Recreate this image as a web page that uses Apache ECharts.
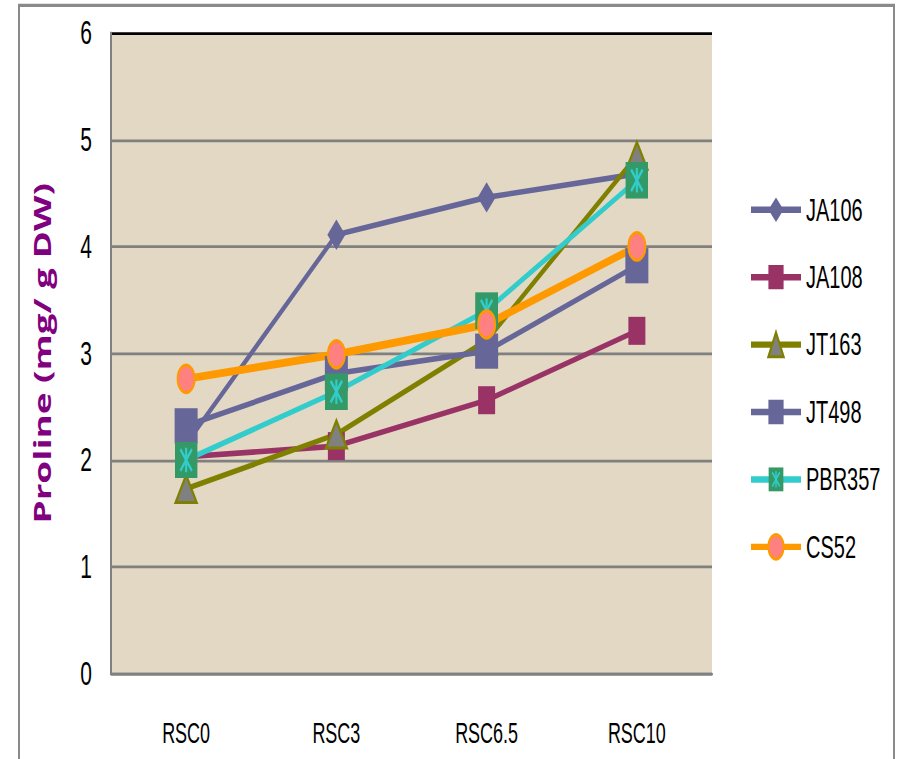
<!DOCTYPE html>
<html>
<head>
<meta charset="utf-8">
<script src="https://cdn.jsdelivr.net/npm/echarts@6/dist/echarts.min.js"></script>
<style>
html,body{margin:0;padding:0;background:#fff;width:901px;height:759px;}
#wrap{width:901px;height:759px;position:relative;}
#chart{position:absolute;left:0;top:0;width:901px;height:474px;transform:scaleY(1.6013);transform-origin:0 0;}
</style>
</head>
<body>
<div id="wrap"><div id="chart"></div></div>
<script>
// ---- data ----
var categories = ['RSC0', 'RSC3', 'RSC6.5', 'RSC10'];
var yTicks = [0, 1, 2, 3, 4, 5, 6];
var JA106  = [2.15, 4.11, 4.46, 4.68];
var JA108  = [2.03, 2.13, 2.56, 3.21];
var JT163  = [1.73, 2.24, 3.12, 4.85];
var JT498  = [2.32, 2.81, 3.02, 3.82];
var PBR357 = [2.00, 2.64, 3.40, 4.62];
var CS52   = [2.76, 2.99, 3.27, 4.00];

// The reference picture is stretched vertically (~1.6x); the chart is drawn
// at 901x474 and stretched by CSS so that glyphs and markers keep that look.
var pbrSvg = '<svg xmlns="http://www.w3.org/2000/svg" width="24" height="24" viewBox="0 0 24 24" preserveAspectRatio="none">' +
  '<rect x="0" y="0" width="24" height="24" fill="#339966"/>' +
  '<g stroke="#33cccc" stroke-width="2.2" fill="none">' +
  '<line x1="12" y1="4" x2="12" y2="20"/>' +
  '<line x1="6" y1="5" x2="18" y2="19"/>' +
  '<line x1="18" y1="5" x2="6" y2="19"/>' +
  '</g></svg>';
var pbrSymbol = 'image://data:image/svg+xml;charset=utf-8,' + encodeURIComponent(pbrSvg);

var chart = echarts.init(document.getElementById('chart'), null, {renderer: 'svg'});
var baseFont = "'Liberation Sans', Arial, sans-serif";

function mk(name, data, lineColor, symbol, size, fill, border, bw, lw) {
  return {
    name: name, type: 'line', data: data,
    symbol: symbol, symbolSize: size,
    lineStyle: {color: lineColor, width: lw},
    itemStyle: {color: fill, borderColor: border || fill, borderWidth: bw || 0},
    emphasis: {disabled: true},
    animation: false
  };
}

var option = {
  backgroundColor: '#ffffff',
  animation: false,
  grid: {left: 111, right: 189, top: 20.6, bottom: 53.4, show: true,
         backgroundColor: '#e2d8c4', borderWidth: 0},
  legend: {
    orient: 'vertical', left: 749, top: 121, padding: 0,
    itemWidth: 50, itemHeight: 19, itemGap: 22.1,
    lineStyle: {width: 4},
    textStyle: {fontFamily: baseFont, fontSize: 20, color: '#000'},
    data: ['JA106', 'JA108', 'JT163', 'JT498', 'PBR357', 'CS52']
  },
  xAxis: {
    type: 'category', data: categories, boundaryGap: true,
    axisLine: {show: true, lineStyle: {color: '#808080', width: 1.8}},
    axisTick: {show: false},
    axisLabel: {fontFamily: baseFont, fontSize: 18, color: '#000', margin: 28}
  },
  yAxis: {
    type: 'value', min: yTicks[0], max: yTicks[yTicks.length - 1], interval: 1,
    name: 'Proline (mg/ g DW)', nameLocation: 'middle', nameGap: 57,
    nameTextStyle: {fontFamily: "'Open Sans', 'Noto Sans', sans-serif", fontWeight: 'bold', fontSize: 23, color: '#800080'},
    axisLine: {show: true, lineStyle: {color: '#808080', width: 2}},
    axisTick: {show: false},
    axisLabel: {fontFamily: baseFont, fontSize: 21, color: '#000', margin: 19},
    splitLine: {show: true, lineStyle: {color: ['#808080', '#808080', '#808080', '#808080', '#808080', '#808080', '#000000'], width: 1.8}}
  },
  graphic: [{
    type: 'rect', shape: {x: 19, y: 3.4, width: 875, height: 480},
    style: {fill: 'none', stroke: '#8a8a8a', lineWidth: 2}, silent: true, z: -1
  }],
  series: [
    mk('JA106', JA106, '#666699', 'diamond', [18, 19], '#666699', null, 0, 3.5),
    mk('JA108', JA108, '#993366', 'rect', [17, 17.5], '#993366', null, 0, 3.5),
    mk('JT163', JT163, '#808000', 'triangle', [21, 17], '#808080', '#808000', 2, 3.5),
    mk('JT498', JT498, '#666699', 'rect', [23, 22], '#666699', null, 0, 3.5),
    mk('PBR357', PBR357, '#33cccc', pbrSymbol, [23, 23], '#339966', null, 0, 3.5),
    mk('CS52', CS52, '#ff9900', 'circle', [17, 17], '#ff8080', '#ff9900', 2, 5)
  ]
};
chart.setOption(option);
</script>
</body>
</html>
